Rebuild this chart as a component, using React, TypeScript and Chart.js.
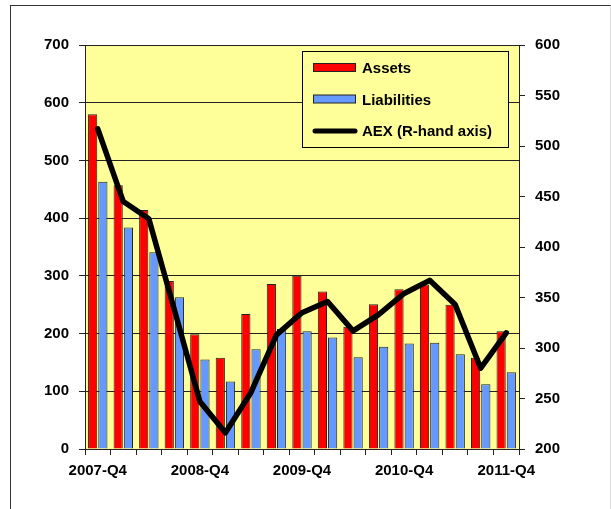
import React, { useEffect, useRef } from "react";
import { Chart, registerables } from "chart.js";

Chart.register(...registerables);

const quarters = [
  "2007-Q4", "2008-Q1", "2008-Q2", "2008-Q3", "2008-Q4", "2009-Q1", "2009-Q2", "2009-Q3",
  "2009-Q4", "2010-Q1", "2010-Q2", "2010-Q3", "2010-Q4", "2011-Q1", "2011-Q2", "2011-Q3", "2011-Q4",
];
const assets = [580, 457, 414, 291, 199, 158, 234, 286, 300, 273, 212, 251, 277, 285, 250, 158, 204];
const liabilities = [463, 384, 341, 263, 155, 117, 173, 208, 204, 193, 159, 177, 183, 184, 164, 112, 133];
const aex = [517, 445, 428, 338, 247, 216, 256, 313, 335, 346, 317, 333, 354, 367, 343, 280, 315];
const leftTicks = [0, 100, 200, 300, 400, 500, 600, 700];
const rightTicks = [200, 250, 300, 350, 400, 450, 500, 550, 600];

const FONT = "'Liberation Sans', Arial, sans-serif";

const bgPlugin = {
  id: "plotBg",
  beforeDraw(chart: any) {
    const { ctx, chartArea } = chart;
    ctx.save();
    ctx.fillStyle = "#FFFF99";
    ctx.fillRect(chartArea.left, chartArea.top, chartArea.right - chartArea.left, chartArea.bottom - chartArea.top);
    ctx.restore();
  },
};

const legendPlugin = {
  id: "boxLegend",
  afterDraw(chart: any) {
    const { ctx } = chart;
    const ds = chart.data.datasets;
    const x = 302.5, y = 51.5, w = 206, h = 96;
    ctx.save();
    ctx.fillStyle = "#FFFF99";
    ctx.fillRect(x, y, w, h);
    ctx.strokeStyle = "#000";
    ctx.lineWidth = 1;
    ctx.strokeRect(x, y, w, h);
    const rows = [68, 99.5, 131];
    const items = [ds[1], ds[2], ds[0]];
    ctx.font = "bold 15px " + FONT;
    ctx.textBaseline = "middle";
    ctx.textAlign = "left";
    items.forEach((d: any, i: number) => {
      const ry = rows[i];
      if (d.type === "line") {
        ctx.strokeStyle = "#000";
        ctx.lineWidth = 5;
        ctx.lineCap = "round";
        ctx.beginPath();
        ctx.moveTo(315, ry);
        ctx.lineTo(355, ry);
        ctx.stroke();
      } else {
        ctx.fillStyle = d.backgroundColor;
        ctx.fillRect(313.5, ry - 4.5, 42, 8);
        ctx.strokeStyle = "#222";
        ctx.lineWidth = 1;
        ctx.strokeRect(313.5, ry - 4.5, 42, 8);
      }
      ctx.fillStyle = "#000";
      ctx.fillText(d.label, 362, ry + 1);
    });
    ctx.restore();
  },
};

export default function App() {
  const ref = useRef<HTMLCanvasElement>(null);
  useEffect(() => {
    if (!ref.current) return;
    const chart = new Chart(ref.current, {
      type: "bar",
      data: {
        labels: quarters,
        datasets: [
          {
            type: "line",
            label: "AEX (R-hand axis)",
            data: aex,
            yAxisID: "y1",
            borderColor: "#000",
            backgroundColor: "#000",
            borderWidth: 5.5,
            pointRadius: 0,
            tension: 0,
            borderJoinStyle: "round",
            borderCapStyle: "round",
            order: 0,
          } as any,
          {
            type: "bar",
            label: "Assets",
            data: assets,
            yAxisID: "y",
            backgroundColor: "#FF0000",
            borderColor: "#222",
            borderWidth: 1,
            categoryPercentage: 0.8,
            barPercentage: 0.9,
            order: 1,
          },
          {
            type: "bar",
            label: "Liabilities",
            data: liabilities,
            yAxisID: "y",
            backgroundColor: "#6699FF",
            borderColor: "#222",
            borderWidth: 1,
            categoryPercentage: 0.8,
            barPercentage: 0.9,
            order: 2,
          },
        ],
      },
      options: {
        responsive: false,
        animation: false,
        layout: { padding: { top: 45, left: 0, right: 0, bottom: 0 } },
        plugins: { legend: { display: false }, tooltip: { enabled: false } },
        scales: {
          x: {
            type: "category",
            afterFit(scale: any) { scale.height = 60; },
            border: { display: true, color: "#222", width: 1 },
            grid: { display: true, drawOnChartArea: false, drawTicks: true, tickLength: 6, color: "#222", offset: true },
            ticks: {
              autoSkip: false,
              maxRotation: 0,
              padding: 7,
              color: "#000",
              font: { family: FONT, size: 15, weight: "bold" },
              callback: (_v: any, i: number) => (i % 4 === 0 ? quarters[i] : ""),
            },
          },
          y: {
            type: "linear",
            position: "left",
            min: leftTicks[0],
            max: leftTicks[leftTicks.length - 1],
            afterFit(scale: any) { scale.width = 85; },
            afterBuildTicks(scale: any) { scale.ticks = leftTicks.map((v) => ({ value: v })); },
            border: { display: true, color: "#222", width: 1 },
            grid: { color: "#222", lineWidth: 1, tickLength: 6 },
            ticks: { padding: 10, color: "#000", font: { family: FONT, size: 15, weight: "bold" } },
          },
          y1: {
            type: "linear",
            position: "right",
            min: rightTicks[0],
            max: rightTicks[rightTicks.length - 1],
            afterFit(scale: any) { scale.width = 92; },
            afterBuildTicks(scale: any) { scale.ticks = rightTicks.map((v) => ({ value: v })); },
            border: { display: true, color: "#222", width: 1 },
            grid: { drawOnChartArea: false, color: "#222", tickLength: 6 },
            ticks: { padding: 10, color: "#000", font: { family: FONT, size: 15, weight: "bold" } },
          },
        },
      },
      plugins: [bgPlugin, legendPlugin],
    });
    return () => chart.destroy();
  }, []);

  return (
    <div style={{ position: "fixed", left: 0, top: 0, width: 611, height: 509, background: "#fff", overflow: "hidden" }}>
      <div
        style={{
          position: "absolute",
          left: 10,
          top: 5,
          width: 599,
          height: 520,
          borderTop: "1px solid #333",
          borderLeft: "1px solid #333",
          borderRight: "1px solid #ddd",
        }}
      />
      <canvas ref={ref} width={611} height={509} style={{ position: "absolute", left: 0, top: 0 }} />
    </div>
  );
}
